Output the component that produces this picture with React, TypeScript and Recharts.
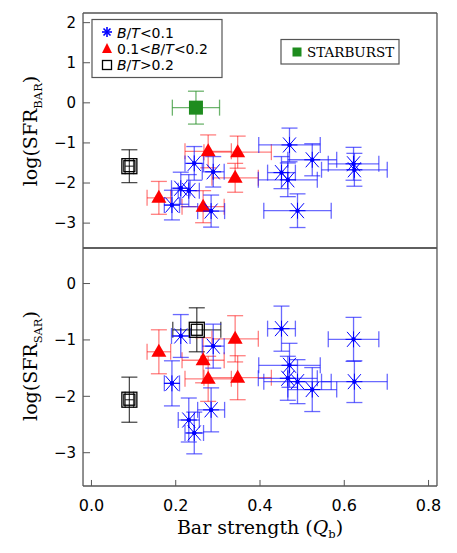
import React from "react";
import { ScatterChart, Scatter, XAxis, YAxis, ErrorBar } from "recharts";

// bar strength Q_b, B/T < 0.1 galaxies
const blueQ = [0.191, 0.212, 0.231, 0.244, 0.284, 0.289, 0.451, 0.466, 0.47, 0.489, 0.524, 0.622, 0.624];
const blueQErr = [0.018, 0.022, 0.025, 0.022, 0.032, 0.026, 0.033, 0.07, 0.073, 0.08, 0.058, 0.06, 0.078];
const blueBar = [-2.55, -2.13, -2.19, -1.51, -2.7, -1.72, -1.74, -1.92, -1.05, -2.69, -1.42, -1.52, -1.67];
const blueBarErr = [0.37, 0.4, 0.4, 0.42, 0.4, 0.38, 0.4, 0.42, 0.42, 0.42, 0.4, 0.41, 0.41];
const blueSar = [-1.77, -0.93, -2.42, -2.65, -2.24, -1.11, -0.8, -1.68, -1.45, -1.74, -1.88, -0.99, -1.74];
const blueSarErr = [0.4, 0.38, 0.39, 0.37, 0.39, 0.39, 0.4, 0.39, 0.39, 0.39, 0.39, 0.39, 0.37];

// 0.1 < B/T < 0.2
const redQ = [0.16, 0.265, 0.277, 0.341, 0.347];
const redQErr = [0.028, 0.05, 0.055, 0.055, 0.08];
const redBar = [-2.37, -2.59, -1.21, -1.87, -1.23];
const redBarErr = [0.41, 0.4, 0.41, 0.36, 0.4];
const redSar = [-1.21, -1.36, -1.69, -0.98, -1.67];
const redSarErr = [0.39, 0.4, 0.4, 0.41, 0.39];

// B/T > 0.2 (the second one is the starburst in the BAR panel)
const bulgeQ = [0.09, 0.25];
const bulgeQErr = [0.01, 0.057];
const bulgeBar = [-1.58];
const bulgeBarErr = [0.41];
const bulgeSar = [-2.06, -0.82];
const bulgeSarErr = [0.4, 0.39];

const starQ = [0.248];
const starQErr = [0.056];
const starBar = [-0.12];
const starBarErr = [0.41];

const xTicks = [0, 0.2, 0.4, 0.6, 0.8];
const xMinor = [0, 0.05, 0.1, 0.15, 0.2, 0.25, 0.3, 0.35, 0.4, 0.45, 0.5, 0.55, 0.6, 0.65, 0.7, 0.75, 0.8];
const barTicks = [-3, -2, -1, 0, 1, 2];
const barMinor = [-3.6, -3.4, -3.2, -3, -2.8, -2.6, -2.4, -2.2, -2, -1.8, -1.6, -1.4, -1.2, -1, -0.8, -0.6, -0.4, -0.2, 0, 0.2, 0.4, 0.6, 0.8, 1, 1.2, 1.4, 1.6, 1.8, 2, 2.2];
const sarTicks = [-3, -2, -1, 0];
const sarMinor = [-3.4, -3.2, -3, -2.8, -2.6, -2.4, -2.2, -2, -1.8, -1.6, -1.4, -1.2, -1, -0.8, -0.6, -0.4, -0.2, 0, 0.2, 0.4, 0.6];

const toPoints = (q: number[], qe: number[], y: number[], ye: number[]) =>
  y.map((v, i) => ({ x: q[i], y: v, ex: qe[i], ey: ye[i] }));

const FRAME = "#555";
const TICK_FONT = { fontSize: 15, fill: "#000", fontFamily: "DejaVu Sans" };
const THIN = 0.01; // axes take (almost) no room, the margins place the plot box

const Asterisk = (props: any) => {
  const { cx, cy } = props;
  return (
    <g stroke="#0000ff" strokeWidth={1}>
      <line x1={cx - 6.5} y1={cy - 7.5} x2={cx + 6.5} y2={cy + 7.5} />
      <line x1={cx - 6.5} y1={cy + 7.5} x2={cx + 6.5} y2={cy - 7.5} />
      <line x1={cx - 8} y1={cy} x2={cx + 8} y2={cy} />
      <line x1={cx} y1={cy - 8} x2={cx} y2={cy + 8} />
      <circle cx={cx} cy={cy} r={1.8} fill="#0000ff" />
    </g>
  );
};

const Triangle = (props: any) => {
  const { cx, cy } = props;
  return <polygon points={`${cx},${cy - 8} ${cx - 7.5},${cy + 5} ${cx + 7.5},${cy + 5}`} fill="#ff0000" />;
};

const OpenSquare = (props: any) => {
  const { cx, cy } = props;
  return (
    <g fill="none" stroke="#000" strokeWidth={1.3}>
      <rect x={cx - 7.5} y={cy - 7.5} width={15} height={15} />
      <rect x={cx - 5.5} y={cy - 5.5} width={11} height={11} />
    </g>
  );
};

const GreenSquare = (props: any) => {
  const { cx, cy } = props;
  return <rect x={cx - 7} y={cy - 7} width={14} height={14} fill="#1e8c1e" />;
};

type Series = { data: any[]; shape: any; color: string; opacity: number };

function Panel({ top, height, mTop, mBottom, yDomain, yTicks, yMinor, series, xLabels }: any) {
  const xDomain = [-0.02, 0.82];
  return (
    <div style={{ position: "absolute", left: 0, top }}>
      <ScatterChart width={457} height={height} margin={{ top: mTop, right: 20, bottom: mBottom, left: 83 }}>
        <XAxis xAxisId="b" type="number" dataKey="x" orientation="bottom" domain={xDomain} allowDataOverflow
          ticks={xTicks} interval={0} height={THIN} tickSize={-6} tickMargin={20}
          tick={xLabels ? { ...TICK_FONT, fontSize: 16 } : false}
          tickFormatter={(v: number) => v.toFixed(1)}
          axisLine={{ stroke: FRAME, strokeWidth: 1.3 }} tickLine={{ stroke: FRAME }} />
        <XAxis xAxisId="bm" type="number" dataKey="x" orientation="bottom" domain={xDomain} allowDataOverflow
          ticks={xMinor} interval={0} height={THIN} tickSize={-3} tick={false} axisLine={false} tickLine={{ stroke: FRAME }} />
        <XAxis xAxisId="t" type="number" dataKey="x" orientation="top" domain={xDomain} allowDataOverflow
          ticks={xTicks} interval={0} height={THIN} tickSize={-6} tick={false}
          axisLine={{ stroke: FRAME, strokeWidth: 1.3 }} tickLine={{ stroke: FRAME }} />
        <XAxis xAxisId="tm" type="number" dataKey="x" orientation="top" domain={xDomain} allowDataOverflow
          ticks={xMinor} interval={0} height={THIN} tickSize={-3} tick={false} axisLine={false} tickLine={{ stroke: FRAME }} />
        <YAxis yAxisId="l" type="number" dataKey="y" orientation="left" domain={yDomain} allowDataOverflow
          ticks={yTicks} interval={0} width={THIN} tickSize={-7} tickMargin={14} tick={TICK_FONT}
          tickFormatter={(v: number) => (v < 0 ? "\u2212" + Math.abs(v) : String(v))}
          axisLine={{ stroke: FRAME, strokeWidth: 1.3 }} tickLine={{ stroke: FRAME }} />
        <YAxis yAxisId="lm" type="number" dataKey="y" orientation="left" domain={yDomain} allowDataOverflow
          ticks={yMinor} interval={0} width={THIN} tickSize={-3.5} tick={false} axisLine={false} tickLine={{ stroke: FRAME }} />
        <YAxis yAxisId="r" type="number" dataKey="y" orientation="right" domain={yDomain} allowDataOverflow
          ticks={yTicks} interval={0} width={THIN} tickSize={-7} tick={false}
          axisLine={{ stroke: FRAME, strokeWidth: 1.3 }} tickLine={{ stroke: FRAME }} />
        <YAxis yAxisId="rm" type="number" dataKey="y" orientation="right" domain={yDomain} allowDataOverflow
          ticks={yMinor} interval={0} width={THIN} tickSize={-3.5} tick={false} axisLine={false} tickLine={{ stroke: FRAME }} />
        {series.map((s: Series, i: number) => (
          <Scatter key={i} xAxisId="b" yAxisId="l" data={s.data} shape={s.shape} isAnimationActive={false}>
            <ErrorBar dataKey="ex" direction="x" width={8} stroke={s.color} strokeOpacity={s.opacity} strokeWidth={1.3} isAnimationActive={false} />
            <ErrorBar dataKey="ey" direction="y" width={8} stroke={s.color} strokeOpacity={s.opacity} strokeWidth={1.3} isAnimationActive={false} />
          </Scatter>
        ))}
      </ScatterChart>
    </div>
  );
}

export default function App() {
  const barSeries: Series[] = [
    { data: toPoints(starQ, starQErr, starBar, starBarErr), shape: GreenSquare, color: "#1e8c1e", opacity: 0.65 },
    { data: toPoints(bulgeQ, bulgeQErr, bulgeBar, bulgeBarErr), shape: OpenSquare, color: "#000", opacity: 0.7 },
    { data: toPoints(redQ, redQErr, redBar, redBarErr), shape: Triangle, color: "#ff0000", opacity: 0.5 },
    { data: toPoints(blueQ, blueQErr, blueBar, blueBarErr), shape: Asterisk, color: "#1a1aff", opacity: 0.65 },
  ];
  const sarSeries: Series[] = [
    { data: toPoints(bulgeQ, bulgeQErr, bulgeSar, bulgeSarErr), shape: OpenSquare, color: "#000", opacity: 0.7 },
    { data: toPoints(redQ, redQErr, redSar, redSarErr), shape: Triangle, color: "#ff0000", opacity: 0.5 },
    { data: toPoints(blueQ, blueQErr, blueSar, blueSarErr), shape: Asterisk, color: "#1a1aff", opacity: 0.65 },
  ];
  const titleFont = { fontFamily: "DejaVu Serif", fontSize: 19 };
  const legendFont = { fontFamily: "DejaVu Sans", fontSize: 14 };
  return (
    <div style={{ position: "absolute", left: 0, top: 0, width: 457, height: 553, background: "#fff" }}>
      <Panel top={0} height={250} mTop={13} mBottom={2} yDomain={[-3.62, 2.24]} yTicks={barTicks} yMinor={barMinor}
        series={barSeries} xLabels={false} />
      <Panel top={246} height={307} mTop={2} mBottom={67} yDomain={[-3.59, 0.63]} yTicks={sarTicks} yMinor={sarMinor}
        series={sarSeries} xLabels={true} />
      <svg width={457} height={553} style={{ position: "absolute", left: 0, top: 0, pointerEvents: "none" }}>
        {/* legend */}
        <rect x={92} y={19.5} width={130} height={58} fill="#fff" stroke={FRAME} strokeWidth={1.2} />
        <g stroke="#0000ff" strokeWidth={1.6}>
          <line x1={102} y1={32} x2={112} y2={32} />
          <line x1={107} y1={27} x2={107} y2={37} />
          <line x1={103.5} y1={28.5} x2={110.5} y2={35.5} />
          <line x1={103.5} y1={35.5} x2={110.5} y2={28.5} />
        </g>
        <text x={117} y={37.5} {...legendFont}>
          <tspan fontStyle="italic">B</tspan>/<tspan fontStyle="italic">T</tspan>&lt;0.1
        </text>
        <polygon points="107,43 102,53 112,53" fill="#ff0000" />
        <text x={117} y={53.5} {...legendFont}>
          0.1&lt;<tspan fontStyle="italic">B</tspan>/<tspan fontStyle="italic">T</tspan>&lt;0.2
        </text>
        <rect x={102.5} y={60.5} width={9} height={9} fill="none" stroke="#000" strokeWidth={1.3} />
        <text x={117} y={70} {...legendFont}>
          <tspan fontStyle="italic">B</tspan>/<tspan fontStyle="italic">T</tspan>&gt;0.2
        </text>
        <rect x={281} y={39.5} width={118} height={24.5} fill="#fff" stroke={FRAME} strokeWidth={1.2} />
        <rect x={292.5} y={47.5} width={9} height={9} fill="#1e8c1e" />
        <text x={307} y={57} fontFamily="DejaVu Serif" fontSize={13.5}>STARBURST</text>
        {/* axis titles */}
        <text transform="translate(37,131) rotate(-90)" textAnchor="middle" {...titleFont}>
          log(SFR<tspan fontSize={11.5} dy={5}>BAR</tspan><tspan dy={-5}>)</tspan>
        </text>
        <text transform="translate(37,366) rotate(-90)" textAnchor="middle" {...titleFont}>
          log(SFR<tspan fontSize={11.5} dy={5}>SAR</tspan><tspan dy={-5}>)</tspan>
        </text>
        <text x={260} y={534} textAnchor="middle" {...titleFont}>
          Bar strength (<tspan fontStyle="italic">Q</tspan><tspan fontSize={11.5} dy={4}>b</tspan><tspan dy={-4}>)</tspan>
        </text>
      </svg>
    </div>
  );
}
